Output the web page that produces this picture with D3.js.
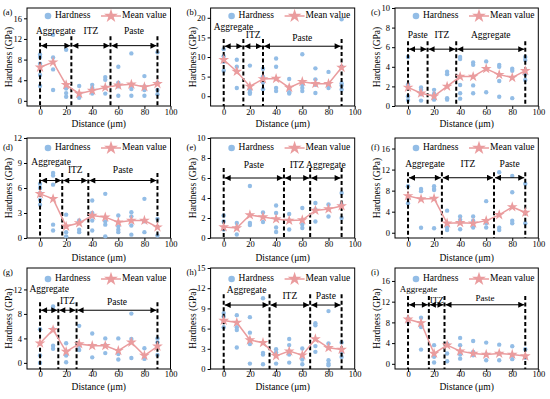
<!DOCTYPE html>
<html><head><meta charset="utf-8">
<script src="https://cdn.jsdelivr.net/npm/d3@7"></script>
<style>body{margin:0;background:#fff}svg{display:block}text{font-family:"Liberation Serif","Times New Roman",serif;fill:#000}</style>
</head><body><svg id="c" width="550" height="399"></svg>
<script>
const distances = [0,10,20,30,40,50,60,70,80,90];
const xTicks = [0,20,40,60,80,100];
const panelLabels = ["(a)","(b)","(c)","(d)","(e)","(f)","(g)","(h)","(i)"];

const meanA = [6.5,7.5,3.1,1.4,2.0,2.6,3.0,3.2,2.7,3.3];
const hardA = [[9.0,8.5,7.2,5.0,2.9],[12.8,8.4,6.1,2.1],[9.9,2.9,2.4,1.5,0.8],[2.9,1.3,0.6],[3.1,2.5,1.4],[4.6,4.1,2.6,1.4],[6.6,3.5,2.8,1.0],[9.2,3.1,2.3,1.0],[4.8,2.8,2.1,1.0],[9.4,3.5,2.1,1.3]];
const meanB = [9.3,6.3,2.5,4.4,4.5,2.2,3.7,3.2,3.2,7.3];
const hardB = [[12.0,10.2,8.8,6.5],[9.3,7.5,2.1],[7.8,1.7,1.0,0.6],[7.0,5.0,3.5,1.8],[9.6,7.5,2.1,1.3],[4.4,2.1,1.0,0.7],[10.7,2.9,2.1,1.3],[7.1,4.3,2.9,0.8],[6.2,2.9,2.1],[19.6,7.5,3.3,2.7,1.7]];
const meanC = [1.9,1.3,1.0,2.0,3.0,3.0,3.8,3.2,2.9,3.6];
const hardC = [[5.0,2.2,1.0,0.6],[1.9,1.65,1.2,0.55],[1.65,1.25,1.0,0.65],[3.5,3.25,0.8,0.65],[5.0,4.8,2.15,1.3,0.75],[4.45,4.2,2.1,1.3],[4.55,1.4],[4.2,4.0,2.55,0.95],[3.8,3.6,0.8],[5.0,4.7,3.25,2.65]];
const meanD = [5.3,4.7,1.4,1.8,2.7,2.5,1.9,2.1,2.1,1.3];
const hardD = [[6.5,6.0,5.4,4.6,4.0],[7.8,7.5,6.4,1.6,0.9],[2.8,1.4,0.7,0.2],[2.1,1.0,0.7],[4.5,3.0,2.8,2.1,0.9],[5.3,2.0,1.6,0.2],[2.7,1.4,1.0,0.7],[3.1,2.6,1.5,0.4],[4.7,2.0,0.7],[2.3,0.3]];
const meanE = [1.1,1.0,2.3,2.1,1.9,1.75,1.8,2.75,2.9,3.2];
const hardE = [[2.25,1.65,0.85],[1.5,1.05,0.35],[5.2,1.5,1.3],[2.55,1.6],[3.25,2.5,1.05,0.6],[2.4,1.75,0.85],[3.0,1.35,1.0],[3.5,2.85,1.65],[3.35,2.15],[4.5,3.35,2.0]];
const meanF = [7.0,6.4,6.5,1.8,1.9,1.8,2.3,3.4,4.9,3.85];
const hardF = [[8.85,6.6,5.6],[8.3,7.9,0.95],[8.85,8.3,8.1,0.85],[4.2,0.95,0.5],[3.1,2.45,0.65],[3.1,2.3,1.0],[6.0,1.8,1.0],[11.5,0.95,0.5],[10.8,7.7,2.3,1.8],[9.3,3.85,1.8]];
const meanG = [3.2,5.4,1.85,3.1,2.8,2.8,2.0,3.35,1.2,2.7];
const hardG = [[5.5,1.2,0.0],[9.2,8.75,5.5,2.8,2.3],[3.2,1.2,0.1],[6.05,2.8,2.1],[4.8,0.9],[4.0,2.9,1.6],[4.0,1.45,0.55],[8.05,3.9,0.8],[2.4,0.65],[4.0,3.35,1.3]];
const meanH = [7.2,6.9,4.3,3.9,1.95,2.65,2.05,4.45,3.15,2.9];
const hardH = [[8.3,7.8,7.0,6.2],[8.0,6.2,5.8,3.2],[7.7,5.4,3.7,0.8],[10.5,2.4,2.15,0.7],[2.95,2.45,0.8],[4.45,3.55,2.15,0.95],[3.05,1.4,0.7],[6.8,6.5,3.4,2.55],[8.6,3.8,1.3,0.8,0.55],[3.95,2.45,1.8]];
const meanI = [8.6,7.9,2.0,3.6,2.45,2.0,1.8,2.0,1.8,1.5];
const hardI = [[8.75,8.1],[8.9,7.1,2.75],[3.6,1.35,0.25],[3.9,2.0,0.5],[5.0,3.6,1.8,1.0],[4.4,2.3,1.65],[4.1,1.8,0.7],[3.7,2.0,0.7],[3.4,1.65,0.9],[2.8,1.15]];

const yTicksA = [0,4,8,12,16], yTicksB = [0,5,10,15,20], yTicksC = [0,2,4,6,8,10];
const yTicksD = [0,3,6,9,12], yTicksE = [0,2,4,6,8,10], yTicksF = [0,4,8,12,16];
const yTicksG = [0,4,8,12], yTicksH = [0,3,6,9,12,15], yTicksI = [0,4,8,12,16];

const zonesAgg = ["Aggregate","ITZ","Paste"];
const zonesPaste = ["Paste","ITZ","Aggregate"];
const boundsA = [0,24,54,90], boundsB = [0,15,30,90], boundsC = [0,15,37,90];
const boundsD = [0,17,37,90], boundsE = [0,46,66,90], boundsF = [0,26,66,90];
const boundsG = [0,14,28,90], boundsH = [0,35,66,90], boundsI = [0,16,28,90];

const panels = [
 {mean:meanA, hard:hardA, ticks:yTicksA, dom:[-1,18], bounds:boundsA, zones:zonesAgg, arrowY:10.7, labelY:[13.4,13.4,13.4], dashTop:12.5, zf:9.5},
 {mean:meanB, hard:hardB, ticks:yTicksB, dom:[-2.5,22.5], bounds:boundsB, zones:zonesAgg, arrowY:12.75, labelY:[17.5,15.3,14.6], dashTop:14.6, zf:9.5},
 {mean:meanC, hard:hardC, ticks:yTicksC, dom:[0,10], bounds:boundsC, zones:zonesPaste, arrowY:5.8, labelY:[7.2,7.2,7.2], dashTop:6.6, zf:9.5},
 {mean:meanD, hard:hardD, ticks:yTicksD, dom:[0,12], bounds:boundsD, zones:zonesAgg, arrowY:6.9, labelY:[9.0,8.1,8.1], dashTop:7.8, zf:9.5},
 {mean:meanE, hard:hardE, ticks:yTicksE, dom:[0,10], bounds:boundsE, zones:zonesPaste, arrowY:6.0, labelY:[7.25,7.25,7.25], dashTop:7.0, zf:9.5},
 {mean:meanF, hard:hardF, ticks:yTicksF, dom:[-1,18], bounds:boundsF, zones:zonesAgg, arrowY:10.45, labelY:[13.0,13.0,13.0], dashTop:11.5, zf:9.5},
 {mean:meanG, hard:hardG, ticks:yTicksG, dom:[-1,15.5], bounds:boundsG, zones:zonesAgg, arrowY:8.6, labelY:[11.9,10.05,9.8], dashTop:9.9, zf:9.5},
 {mean:meanH, hard:hardH, ticks:yTicksH, dom:[0,15], bounds:boundsH, zones:zonesAgg, arrowY:9.5, labelY:[11.6,10.7,10.75], dashTop:11.1, zf:9.5},
 {mean:meanI, hard:hardI, ticks:yTicksI, dom:[-1,18.5], bounds:boundsI, zones:zonesAgg, arrowY:11.4, labelY:[14.3,12.2,12.6], dashTop:13.1, zf:9}
];

const colX = [[27,170.5],[210.6,354.7],[395,538.3]];
const rowY = [[8,106],[138,238],[268,369]];
const xLabOff = [7,7,6], xTitleOff = [19,21,19], legOff = [8,10,11], pLabY = [13,148,273];

const dotColor = "#93BDE6", meanColor = "#EA9C9E";
const svg = d3.select("#c");
const defs = svg.append("defs");
["s","e"].forEach(k=>{
  defs.append("marker").attr("id","arr"+k).attr("viewBox","0 0 10 10").attr("refX", k==="e"?10:0).attr("refY",5)
   .attr("markerWidth",7).attr("markerHeight",6).attr("markerUnits","userSpaceOnUse").attr("orient","auto")
   .append("path").attr("d", k==="e" ? "M0,0 L10,5 L0,10 Z" : "M10,0 L0,5 L10,10 Z").attr("fill","#000");
});
const star = d3.symbol().type(d3.symbolStar).size(36);

panels.forEach((p,i)=>{
  const col = i%3, row = Math.floor(i/3);
  const [x0,x1] = colX[col], [y0,y1] = rowY[row];
  const x = d3.scaleLinear().domain([-10,100]).range([x0,x1]);
  const y = d3.scaleLinear().domain(p.dom).range([y1,y0]);
  const g = svg.append("g");

  // axes
  g.append("g").attr("transform",`translate(0,${y1})`)
   .call(d3.axisBottom(x).tickValues(xTicks).tickSize(3).tickPadding(1))
   .call(a=>{a.select(".domain").remove(); a.selectAll("text").attr("font-size",8.5).attr("font-family","Liberation Serif").attr("dy",null).attr("y",xLabOff[row]).attr("dominant-baseline","middle");});
  g.append("g").attr("transform",`translate(${x0},0)`)
   .call(d3.axisLeft(y).tickValues(p.ticks).tickSize(3).tickPadding(2))
   .call(a=>{a.select(".domain").remove(); a.selectAll("text").attr("font-size",8.5).attr("font-family","Liberation Serif");});
  g.append("rect").attr("x",x0).attr("y",y0).attr("width",x1-x0).attr("height",y1-y0)
   .attr("fill","none").attr("stroke","#000").attr("stroke-width",1);

  // titles
  g.append("text").attr("x",(x0+x1)/2).attr("y",y1+xTitleOff[row]).attr("text-anchor","middle")
   .attr("dominant-baseline","middle").attr("font-size",9.5).text("Distance (μm)");
  g.append("text").attr("transform",`translate(${x0-17},${(y0+y1)/2}) rotate(-90)`).attr("text-anchor","middle")
   .attr("dominant-baseline","middle").attr("font-size",9.5).text("Hardness (GPa)");
  g.append("text").attr("x",x0-24).attr("y",pLabY[row]).attr("dominant-baseline","middle").attr("font-size",8.5).text(panelLabels[i]);

  // scatter
  const pts = [];
  p.hard.forEach((arr,j)=>arr.forEach(v=>pts.push([distances[j],v])));
  g.selectAll("circle.d").data(pts).join("circle").attr("cx",d=>x(d[0])).attr("cy",d=>y(d[1])).attr("r",2.2).attr("fill",dotColor);

  // dashed boundaries
  g.selectAll("line.b").data(p.bounds).join("line").attr("x1",d=>x(d)).attr("x2",d=>x(d))
   .attr("y1",y(p.dashTop)).attr("y2",y1).attr("stroke","#000").attr("stroke-width",2).attr("stroke-dasharray","4,2.5");

  // arrows and zone labels
  for(let k=0;k<3;k++){
    const a = x(p.bounds[k])+1, b = x(p.bounds[k+1])-1;
    g.append("line").attr("x1",a).attr("x2",b).attr("y1",y(p.arrowY)).attr("y2",y(p.arrowY))
     .attr("stroke","#000").attr("stroke-width",1).attr("marker-start","url(#arrs)").attr("marker-end","url(#arre)");
    g.append("text").attr("x",x((p.bounds[k]+p.bounds[k+1])/2)).attr("y",y(p.labelY[k])).attr("text-anchor","middle")
     .attr("dominant-baseline","middle").attr("font-size",p.zf).text(p.zones[k]);
  }

  // mean line
  const md = p.mean.map((v,j)=>[distances[j],v]);
  g.append("path").datum(md).attr("d",d3.line().x(d=>x(d[0])).y(d=>y(d[1]))).attr("fill","none").attr("stroke",meanColor).attr("stroke-width",1.5);
  g.selectAll("path.s").data(md).join("path").attr("transform",d=>`translate(${x(d[0])},${y(d[1])})`).attr("d",star).attr("fill",meanColor);

  // legend
  const ly = y0+legOff[row];
  g.append("circle").attr("cx",x0+21).attr("cy",ly).attr("r",3.3).attr("fill",dotColor);
  g.append("text").attr("x",x0+28).attr("y",ly).attr("dominant-baseline","middle").attr("font-size",9.5).text("Hardness");
  g.append("line").attr("x1",x0+74).attr("x2",x0+94).attr("y1",ly).attr("y2",ly).attr("stroke",meanColor).attr("stroke-width",1.5);
  g.append("path").attr("transform",`translate(${x0+84},${ly})`).attr("d",d3.symbol().type(d3.symbolStar).size(60)).attr("fill",meanColor);
  g.append("text").attr("x",x0+95).attr("y",ly).attr("dominant-baseline","middle").attr("font-size",9.5).text("Mean value");
});
</script></body></html>
